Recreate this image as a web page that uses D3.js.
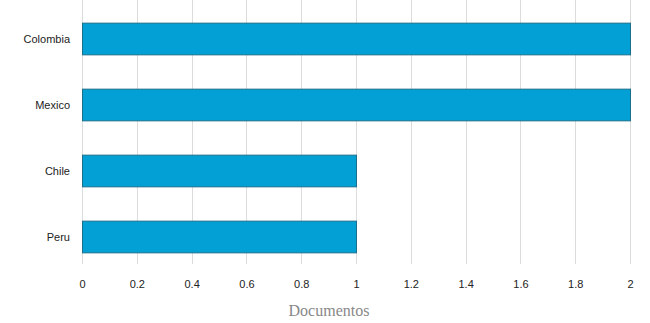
<!DOCTYPE html>
<html>
<head>
<meta charset="utf-8">
<script src="https://cdn.jsdelivr.net/npm/d3@7"></script>
<style>
  body { margin: 0; background: #fff; }
</style>
</head>
<body>
<div id="chart"></div>
<script>
// chart data
var countries = ["Colombia", "Mexico", "Chile", "Peru"];
var documentos = [2, 2, 1, 1];
var tickValues = [0, 0.2, 0.4, 0.6, 0.8, 1, 1.2, 1.4, 1.6, 1.8, 2];

var width = 650, height = 323;
var left = 82, right = 630;

var svg = d3.select("#chart")
  .append("svg")
    .attr("width", width)
    .attr("height", height);

var x = d3.scaleLinear().domain([0, 2]).range([left, right]);
var y = d3.scaleBand().domain(countries).range([6, 270]).paddingInner(0.52).paddingOuter(0.26);

// vertical grid
svg.selectAll(".grid")
    .data(tickValues)
  .enter()
    .append("line")
    .attr("x1", function(d) { return Math.round(x(d)) + 0.5; })
    .attr("x2", function(d) { return Math.round(x(d)) + 0.5; })
    .attr("y1", 0)
    .attr("y2", 264)
    .attr("stroke", "#dcdcdc")
    .attr("stroke-width", 1);

// bars
svg.selectAll(".bar")
    .data(countries)
  .enter()
    .append("rect")
    .attr("x", x(0) + 0.5)
    .attr("y", function(d) { return y(d); })
    .attr("width", function(d, i) { return x(documentos[i]) - x(0); })
    .attr("height", y.bandwidth())
    .attr("fill", "#03a0d5")
    .attr("stroke", "#1b6f8c")
    .attr("stroke-width", 1);

// category labels
svg.selectAll(".cat")
    .data(countries)
  .enter()
    .append("text")
    .attr("x", 70)
    .attr("y", function(d) { return y(d) + y.bandwidth() / 2; })
    .attr("dy", "0.35em")
    .attr("text-anchor", "end")
    .attr("font-family", "Liberation Sans, Arial, sans-serif")
    .attr("font-size", 11)
    .attr("fill", "#222")
    .text(function(d) { return d; });

// x axis tick labels
var xAxis = d3.axisBottom(x).tickValues(tickValues).tickSize(0).tickPadding(0)
  .tickFormat(function(d) { return String(d); });
var gx = svg.append("g").attr("transform", "translate(0,280)").call(xAxis);
gx.select(".domain").remove();
gx.selectAll("text")
    .attr("font-family", "Liberation Sans, Arial, sans-serif")
    .attr("font-size", 11)
    .attr("fill", "#222");

// axis title
svg.append("text")
    .attr("x", 329)
    .attr("y", 316)
    .attr("text-anchor", "middle")
    .attr("font-family", "Liberation Serif, Times New Roman, serif")
    .attr("font-size", 16)
    .attr("fill", "#888")
    .text("Documentos");
</script>
</body>
</html>
